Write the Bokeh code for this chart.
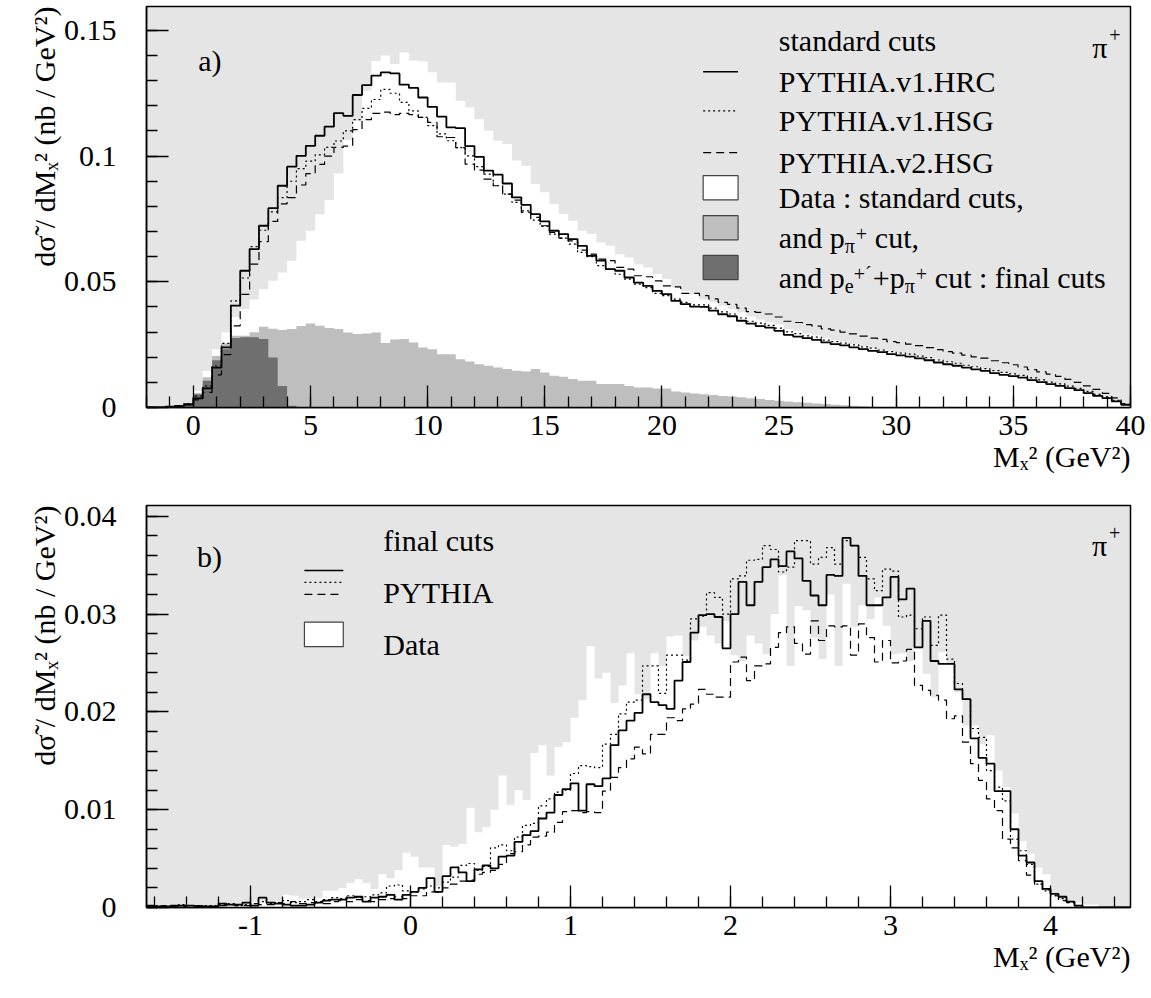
from bokeh.plotting import figure
from bokeh.models import FixedTicker, Label, Title
from bokeh.layouts import column
from bokeh.embed import file_html
from bokeh.resources import INLINE

FONT = "Liberation Serif"

# ---------------- panel a) : bins of 0.4 GeV^2 from -2 to 40 ----------------
A_START, A_BIN = -2.0, 0.4
solid_a = [0.0000, 0.0000, 0.0003, 0.0006, 0.0013, 0.0036, 0.0076, 0.0159, 0.0239, 0.0405,
           0.0544, 0.0630, 0.0723, 0.0793, 0.0882, 0.0958, 0.1001, 0.1041, 0.1081, 0.1117,
           0.1171, 0.1160, 0.1243, 0.1282, 0.1320, 0.1333, 0.1329, 0.1284, 0.1271, 0.1233,
           0.1196, 0.1157, 0.1114, 0.1111, 0.1040, 0.0997, 0.0942, 0.0926, 0.0891, 0.0836,
           0.0806, 0.0769, 0.0740, 0.0703, 0.0690, 0.0670, 0.0643, 0.0603, 0.0584, 0.0550,
           0.0544, 0.0517, 0.0497, 0.0484, 0.0464, 0.0451, 0.0424, 0.0411, 0.0401, 0.0400,
           0.0385, 0.0371, 0.0363, 0.0345, 0.0334, 0.0324, 0.0318, 0.0305, 0.0289, 0.0282,
           0.0276, 0.0269, 0.0259, 0.0252, 0.0247, 0.0239, 0.0232, 0.0225, 0.0220, 0.0212,
           0.0207, 0.0202, 0.0195, 0.0188, 0.0179, 0.0172, 0.0166, 0.0159, 0.0152, 0.0146,
           0.0137, 0.0130, 0.0125, 0.0119, 0.0109, 0.0101, 0.0093, 0.0086, 0.0077, 0.0069,
           0.0057, 0.0046, 0.0037, 0.0024, 0.0011]
dotted_a = [0.0000, 0.0000, 0.0003, 0.0007, 0.0016, 0.0045, 0.0085, 0.0165, 0.0255, 0.0424,
            0.0515, 0.0640, 0.0705, 0.0778, 0.0835, 0.0900, 0.0950, 0.0980, 0.1005, 0.1035,
            0.1060, 0.1100, 0.1145, 0.1190, 0.1225, 0.1265, 0.1250, 0.1214, 0.1180, 0.1154,
            0.1121, 0.1088, 0.1061, 0.1034, 0.1001, 0.0958, 0.0928, 0.0882, 0.0849, 0.0816,
            0.0782, 0.0745, 0.0720, 0.0690, 0.0674, 0.0650, 0.0617, 0.0600, 0.0564, 0.0550,
            0.0530, 0.0511, 0.0491, 0.0477, 0.0454, 0.0445, 0.0431, 0.0418, 0.0408, 0.0408,
            0.0395, 0.0380, 0.0372, 0.0356, 0.0343, 0.0336, 0.0327, 0.0316, 0.0301, 0.0294,
            0.0285, 0.0280, 0.0268, 0.0262, 0.0256, 0.0249, 0.0241, 0.0236, 0.0228, 0.0222,
            0.0216, 0.0212, 0.0204, 0.0198, 0.0189, 0.0182, 0.0176, 0.0168, 0.0162, 0.0155,
            0.0147, 0.0140, 0.0134, 0.0128, 0.0118, 0.0110, 0.0101, 0.0094, 0.0085, 0.0076,
            0.0064, 0.0052, 0.0042, 0.0028, 0.0013]
dashed_a = [0.0000, 0.0000, 0.0000, 0.0004, 0.0010, 0.0030, 0.0060, 0.0130, 0.0210, 0.0325,
            0.0450, 0.0570, 0.0660, 0.0740, 0.0810, 0.0835, 0.0885, 0.0930, 0.0967, 0.1000,
            0.1035, 0.1040, 0.1105, 0.1145, 0.1170, 0.1175, 0.1165, 0.1170, 0.1165, 0.1154,
            0.1134, 0.1077, 0.1074, 0.1034, 0.0968, 0.0944, 0.0908, 0.0882, 0.0849, 0.0825,
            0.0776, 0.0756, 0.0723, 0.0696, 0.0674, 0.0663, 0.0626, 0.0610, 0.0590, 0.0584,
            0.0557, 0.0550, 0.0524, 0.0520, 0.0504, 0.0484, 0.0480, 0.0454, 0.0454, 0.0445,
            0.0432, 0.0418, 0.0410, 0.0395, 0.0381, 0.0378, 0.0372, 0.0360, 0.0343, 0.0338,
            0.0330, 0.0324, 0.0313, 0.0308, 0.0300, 0.0293, 0.0284, 0.0276, 0.0271, 0.0262,
            0.0258, 0.0252, 0.0246, 0.0238, 0.0230, 0.0222, 0.0216, 0.0208, 0.0201, 0.0196,
            0.0186, 0.0178, 0.0170, 0.0161, 0.0151, 0.0142, 0.0133, 0.0124, 0.0112, 0.0100,
            0.0086, 0.0072, 0.0056, 0.0038, 0.0016]
data_std_a = [0.0000, 0.0000, 0.0000, 0.0004, 0.0014, 0.0066, 0.0145, 0.0232, 0.0298, 0.0360,
              0.0391, 0.0430, 0.0471, 0.0504, 0.0537, 0.0584, 0.0663, 0.0703, 0.0769, 0.0825,
              0.0931, 0.1064, 0.1140, 0.1260, 0.1378, 0.1400, 0.1366, 0.1412, 0.1380, 0.1377,
              0.1333, 0.1293, 0.1293, 0.1220, 0.1194, 0.1147, 0.1101, 0.1061, 0.1048, 0.0982,
              0.0962, 0.0889, 0.0856, 0.0809, 0.0770, 0.0743, 0.0703, 0.0690, 0.0656, 0.0643,
              0.0610, 0.0597, 0.0570, 0.0557, 0.0531, 0.0511, 0.0477, 0.0464, 0.0451, 0.0430,
              0.0420, 0.0405, 0.0392, 0.0378, 0.0362, 0.0350, 0.0340, 0.0330, 0.0312, 0.0305,
              0.0294, 0.0286, 0.0276, 0.0268, 0.0262, 0.0252, 0.0245, 0.0238, 0.0230, 0.0223,
              0.0218, 0.0211, 0.0203, 0.0196, 0.0188, 0.0180, 0.0174, 0.0166, 0.0160, 0.0152,
              0.0145, 0.0137, 0.0131, 0.0124, 0.0114, 0.0106, 0.0098, 0.0090, 0.0081, 0.0072,
              0.0060, 0.0049, 0.0039, 0.0026, 0.0012]
data_ppi_a = [0.0000, 0.0000, 0.0000, 0.0003, 0.0013, 0.0058, 0.0120, 0.0205, 0.0255, 0.0285,
              0.0285, 0.0299, 0.0321, 0.0313, 0.0308, 0.0312, 0.0324, 0.0334, 0.0325, 0.0316,
              0.0312, 0.0298, 0.0292, 0.0294, 0.0298, 0.0257, 0.0270, 0.0272, 0.0259, 0.0239,
              0.0232, 0.0212, 0.0212, 0.0192, 0.0183, 0.0172, 0.0166, 0.0159, 0.0153, 0.0146,
              0.0143, 0.0153, 0.0139, 0.0126, 0.0122, 0.0113, 0.0106, 0.0106, 0.0093, 0.0093,
              0.0093, 0.0086, 0.0080, 0.0080, 0.0076, 0.0076, 0.0064, 0.0060, 0.0056, 0.0053,
              0.0050, 0.0046, 0.0044, 0.0041, 0.0037, 0.0034, 0.0030, 0.0027, 0.0024, 0.0021,
              0.0019, 0.0016, 0.0014, 0.0011, 0.0009, 0.0007, 0.0005, 0.0003, 0.0000, 0.0000,
              0.0000, 0.0000, 0.0000, 0.0000, 0.0000, 0.0000, 0.0000, 0.0000, 0.0000, 0.0000,
              0.0000, 0.0000, 0.0000, 0.0000, 0.0000, 0.0000, 0.0000, 0.0000, 0.0000, 0.0000,
              0.0000, 0.0000, 0.0000, 0.0000, 0.0000]
data_final_a = [0.0000, 0.0000, 0.0000, 0.0003, 0.0013, 0.0053, 0.0106, 0.0188, 0.0232, 0.0276,
                0.0279, 0.0279, 0.0272, 0.0199, 0.0086, 0.0007]

# ---------------- panel b) : bins of 0.05 GeV^2 from -1.65 to 4.5 ----------------
B_START, B_BIN = -1.65, 0.05
solid_b = [0.0002, 0.0001, 0.0001, 0.0002, 0.0002, 0.0002, 0.0001, 0.0001, 0.0001, 0.0004,
           0.0003, 0.0003, 0.0005, 0.0002, 0.0010, 0.0005, 0.0004, 0.0003, 0.0002, 0.0002,
           0.0003, 0.0005, 0.0007, 0.0008, 0.0008, 0.0010, 0.0011, 0.0006, 0.0010, 0.0011,
           0.0013, 0.0008, 0.0013, 0.0016, 0.0020, 0.0030, 0.0016, 0.0032, 0.0041, 0.0036,
           0.0027, 0.0039, 0.0043, 0.0040, 0.0052, 0.0053, 0.0067, 0.0074, 0.0078, 0.0091,
           0.0097, 0.0115, 0.0121, 0.0127, 0.0099, 0.0126, 0.0124, 0.0132, 0.0166, 0.0181,
           0.0191, 0.0199, 0.0218, 0.0210, 0.0207, 0.0203, 0.0232, 0.0251, 0.0281, 0.0299,
           0.0300, 0.0297, 0.0265, 0.0300, 0.0333, 0.0309, 0.0333, 0.0348, 0.0356, 0.0349,
           0.0364, 0.0357, 0.0334, 0.0319, 0.0309, 0.0340, 0.0339, 0.0378, 0.0370, 0.0339,
           0.0309, 0.0309, 0.0317, 0.0338, 0.0315, 0.0326, 0.0266, 0.0293, 0.0252, 0.0249,
           0.0249, 0.0223, 0.0213, 0.0173, 0.0153, 0.0147, 0.0119, 0.0119, 0.0080, 0.0053,
           0.0046, 0.0027, 0.0019, 0.0014, 0.0011, 0.0006, 0.0002, 0.0000, 0.0000, 0.0000,
           0.0000, 0.0000, 0.0000]
dotted_b = [0.0001, 0.0002, 0.0001, 0.0001, 0.0003, 0.0002, 0.0001, 0.0002, 0.0002, 0.0003,
            0.0004, 0.0002, 0.0003, 0.0004, 0.0006, 0.0004, 0.0005, 0.0007, 0.0005, 0.0006,
            0.0008, 0.0006, 0.0008, 0.0010, 0.0009, 0.0012, 0.0010, 0.0011, 0.0013, 0.0015,
            0.0022, 0.0023, 0.0017, 0.0016, 0.0019, 0.0022, 0.0020, 0.0026, 0.0031, 0.0043,
            0.0045, 0.0038, 0.0042, 0.0061, 0.0064, 0.0058, 0.0072, 0.0084, 0.0086, 0.0104,
            0.0111, 0.0118, 0.0120, 0.0137, 0.0145, 0.0144, 0.0143, 0.0167, 0.0177, 0.0198,
            0.0210, 0.0212, 0.0247, 0.0247, 0.0219, 0.0258, 0.0258, 0.0253, 0.0295, 0.0298,
            0.0322, 0.0317, 0.0300, 0.0336, 0.0339, 0.0355, 0.0356, 0.0370, 0.0366, 0.0343,
            0.0348, 0.0375, 0.0375, 0.0351, 0.0358, 0.0368, 0.0351, 0.0375, 0.0370, 0.0358,
            0.0336, 0.0324, 0.0346, 0.0344, 0.0297, 0.0299, 0.0285, 0.0297, 0.0268, 0.0299,
            0.0254, 0.0229, 0.0213, 0.0183, 0.0174, 0.0140, 0.0123, 0.0109, 0.0070, 0.0058,
            0.0044, 0.0024, 0.0017, 0.0012, 0.0009, 0.0005, 0.0002, 0.0000, 0.0000, 0.0000,
            0.0000, 0.0000, 0.0000]
dashed_b = [0.0001, 0.0001, 0.0002, 0.0001, 0.0001, 0.0002, 0.0002, 0.0001, 0.0001, 0.0002,
            0.0003, 0.0002, 0.0002, 0.0004, 0.0003, 0.0003, 0.0005, 0.0004, 0.0006, 0.0004,
            0.0005, 0.0005, 0.0004, 0.0006, 0.0007, 0.0006, 0.0008, 0.0007, 0.0006, 0.0008,
            0.0009, 0.0011, 0.0009, 0.0012, 0.0012, 0.0016, 0.0016, 0.0020, 0.0024, 0.0027,
            0.0028, 0.0034, 0.0036, 0.0038, 0.0044, 0.0055, 0.0057, 0.0064, 0.0072, 0.0073,
            0.0077, 0.0087, 0.0098, 0.0099, 0.0097, 0.0098, 0.0097, 0.0119, 0.0133, 0.0143,
            0.0152, 0.0164, 0.0157, 0.0177, 0.0177, 0.0194, 0.0191, 0.0203, 0.0208, 0.0223,
            0.0218, 0.0215, 0.0215, 0.0251, 0.0256, 0.0232, 0.0247, 0.0249, 0.0266, 0.0281,
            0.0287, 0.0270, 0.0259, 0.0293, 0.0273, 0.0288, 0.0287, 0.0288, 0.0258, 0.0290,
            0.0276, 0.0251, 0.0273, 0.0250, 0.0252, 0.0264, 0.0227, 0.0222, 0.0217, 0.0212,
            0.0193, 0.0196, 0.0169, 0.0147, 0.0130, 0.0111, 0.0099, 0.0070, 0.0061, 0.0048,
            0.0033, 0.0024, 0.0018, 0.0012, 0.0007, 0.0005, 0.0002, 0.0000, 0.0000, 0.0000,
            0.0000, 0.0000, 0.0000]
data_b = [0.0002, 0.0001, 0.0000, 0.0002, 0.0001, 0.0002, 0.0001, 0.0000, 0.0001, 0.0003,
          0.0002, 0.0003, 0.0002, 0.0006, 0.0007, 0.0004, 0.0006, 0.0013, 0.0012, 0.0009,
          0.0009, 0.0010, 0.0017, 0.0017, 0.0020, 0.0025, 0.0029, 0.0025, 0.0019, 0.0034,
          0.0030, 0.0038, 0.0056, 0.0052, 0.0041, 0.0041, 0.0022, 0.0064, 0.0062, 0.0065,
          0.0102, 0.0077, 0.0082, 0.0100, 0.0135, 0.0105, 0.0120, 0.0110, 0.0158, 0.0166,
          0.0135, 0.0164, 0.0169, 0.0194, 0.0212, 0.0267, 0.0234, 0.0240, 0.0209, 0.0227,
          0.0260, 0.0218, 0.0213, 0.0260, 0.0247, 0.0277, 0.0278, 0.0257, 0.0273, 0.0287,
          0.0278, 0.0270, 0.0293, 0.0258, 0.0252, 0.0278, 0.0270, 0.0259, 0.0300, 0.0340,
          0.0247, 0.0308, 0.0304, 0.0276, 0.0254, 0.0320, 0.0247, 0.0331, 0.0287, 0.0309,
          0.0295, 0.0317, 0.0288, 0.0259, 0.0260, 0.0252, 0.0266, 0.0239, 0.0215, 0.0261,
          0.0249, 0.0220, 0.0186, 0.0186, 0.0167, 0.0176, 0.0140, 0.0123, 0.0096, 0.0068,
          0.0055, 0.0041, 0.0034, 0.0014, 0.0008, 0.0005, 0.0005, 0.0003, 0.0003, 0.0000,
          0.0000, 0.0000, 0.0000]

# ticks / labels
a_xticks = [0, 5, 10, 15, 20, 25, 30, 35, 40]
a_xlabels = ["0", "5", "10", "15", "20", "25", "30", "35", "40"]
a_yticks = [0, 0.05, 0.1, 0.15]
a_ylabels = ["0", "0.05", "0.1", "0.15"]
b_xticks = [-1, 0, 1, 2, 3, 4]
b_xlabels = ["-1", "0", "1", "2", "3", "4"]
b_yticks = [0, 0.01, 0.02, 0.03, 0.04]
b_ylabels = ["0", "0.01", "0.02", "0.03", "0.04"]

Y_TITLE = "d\u03c3\u0303 / dM\u2093\u00b2 (nb / GeV\u00b2)"
X_TITLE = "M\u2093\u00b2 (GeV\u00b2)"

BG = "#e5e5e5"
LGRAY = "#bebebe"
DGRAY = "#6f6f6f"


def edges(start, width, n):
    return [start + width * i for i in range(n + 1)]


def padded(vals, n):
    v = list(vals) + [0.0] * (n - len(vals))
    return v + [v[-1]]


def make_fig(xr, yr, top, bottom, xt, xl, xminor, yt, yl, yminor):
    p = figure(frame_width=984, frame_height=top[0], x_range=xr, y_range=yr,
               output_backend="svg", toolbar_location=None,
               min_border_left=146, min_border_right=21,
               min_border_top=top[1], min_border_bottom=bottom,
               background_fill_color=BG, border_fill_color="white",
               outline_line_color="black", outline_line_width=1.5)
    p.grid.visible = False
    for ax, t, l, mn in ((p.xaxis[0], xt, xl, xminor), (p.yaxis[0], yt, yl, yminor)):
        ax.ticker = FixedTicker(ticks=t, minor_ticks=mn)
        ax.major_label_overrides = {tv: lab for tv, lab in zip(t, l)}
        ax.major_tick_in = 22
        ax.major_tick_out = 0
        ax.minor_tick_in = 11
        ax.minor_tick_out = 0
        ax.major_tick_line_width = 1.3
        ax.minor_tick_line_width = 1.3
        ax.axis_line_width = 1.5
        ax.major_label_text_font = FONT
        ax.major_label_text_font_size = "30px"
        ax.major_label_text_color = "black"
    p.xaxis.major_label_standoff = 8
    p.yaxis.major_label_standoff = 30
    p.add_layout(Title(text=X_TITLE, align="right", text_font=FONT, text_font_size="30px",
                       text_font_style="normal", text_color="black", standoff=0), "below")
    p.add_layout(Title(text=Y_TITLE, align="right", text_font=FONT, text_font_size="30px",
                       text_font_style="normal", text_color="black", standoff=0), "left")
    return p


def lab(p, x, y, text, size=30, dx=0, dy=0):
    p.add_layout(Label(x=x, y=y, text=text, x_offset=dx, y_offset=dy,
                       text_font=FONT, text_font_size=f"{size}px", text_color="black",
                       text_align="left", text_baseline="alphabetic"))


# ============================ panel a ============================
NA = len(solid_a)
ea = edges(A_START, A_BIN, NA)
pa = make_fig((-2, 40), (0, 0.1595), (401, 6), 83,
              a_xticks, a_xlabels, list(range(-2, 41)),
              a_yticks, a_ylabels, [i / 100 for i in range(0, 16)])

pa.varea_step(x=ea, y1=0, y2=padded(data_std_a, NA), step_mode="after", fill_color="white")
pa.varea_step(x=ea, y1=0, y2=padded(data_ppi_a, NA), step_mode="after", fill_color=LGRAY)
pa.varea_step(x=ea, y1=0, y2=padded(data_final_a, NA), step_mode="after", fill_color=DGRAY)
pa.step(x=ea, y=padded(dashed_a, NA), mode="after", line_color="black", line_width=1.2, line_dash="8 5")
pa.step(x=ea, y=padded(dotted_a, NA), mode="after", line_color="black", line_width=1.2, line_dash="2 3")
pa.step(x=ea, y=padded(solid_a, NA), mode="after", line_color="black", line_width=1.8)

# legend (layout positions in axis units)
LX0, LX1, LT = 21.76, 23.25, 24.99
rows = [0.1335, 0.1180, 0.1014, 0.0874, 0.0715, 0.0557]
BASE = -0.0038
HALF = 0.0048
lab(pa, LT, 0.1459, "standard cuts")
for yy, dash, w, txt in ((rows[0], "solid", 1.5, "PYTHIA.v1.HRC"),
                         (rows[1], "2 3", 1.2, "PYTHIA.v1.HSG"),
                         (rows[2], "8 5", 1.2, "PYTHIA.v2.HSG")):
    pa.line(x=[LX0, LX1], y=[yy, yy], line_color="black", line_width=w, line_dash=dash)
    lab(pa, LT, yy + BASE, txt)
for yy, col in ((rows[3], "white"), (rows[4], LGRAY), (rows[5], DGRAY)):
    pa.quad(left=LX0, right=LX1, bottom=yy - HALF, top=yy + HALF, fill_color=col,
            line_color="#444444", line_width=1.2)
lab(pa, LT, rows[3] + BASE, "Data : standard cuts,")
# "and p_pi+ cut,"
lab(pa, LT, rows[4] + BASE, "and p")
lab(pa, LT, rows[4] + BASE, "\u03c0", size=20, dx=66, dy=-9)
lab(pa, LT, rows[4] + BASE, "+", size=20, dx=77, dy=3)
lab(pa, LT, rows[4] + BASE, "cut,", dx=96)
# "and p_e+' + p_pi+ cut : final cuts"
lab(pa, LT, rows[5] + BASE, "and p")
lab(pa, LT, rows[5] + BASE, "e", size=20, dx=66, dy=-9)
lab(pa, LT, rows[5] + BASE, "+\u00b4", size=20, dx=75, dy=3)
lab(pa, LT, rows[5] + BASE, "+p", dx=94)
lab(pa, LT, rows[5] + BASE, "\u03c0", size=20, dx=126, dy=-9)
lab(pa, LT, rows[5] + BASE, "+", size=20, dx=137, dy=3)
lab(pa, LT, rows[5] + BASE, "cut : final cuts", dx=156)
lab(pa, 0.21, 0.1382, "a)")
lab(pa, 38.37, 0.1432, "\u03c0")
lab(pa, 38.37, 0.1432, "+", size=20, dx=17, dy=12)

# ============================ panel b ============================
NB = len(solid_b)
eb = edges(B_START, B_BIN, NB)
pb = make_fig((-1.65, 4.5), (0, 0.0411), (402, 15), 91,
              b_xticks, b_xlabels, [round(-1.6 + 0.2 * i, 1) for i in range(31)],
              b_yticks, b_ylabels, [round(0.002 * i, 3) for i in range(21)])

pb.varea_step(x=eb, y1=0, y2=padded(data_b, NB), step_mode="after", fill_color="white")
pb.step(x=eb, y=padded(dashed_b, NB), mode="after", line_color="black", line_width=1.2, line_dash="8 5")
pb.step(x=eb, y=padded(dotted_b, NB), mode="after", line_color="black", line_width=1.2, line_dash="2 3")
pb.step(x=eb, y=padded(solid_b, NB), mode="after", line_color="black", line_width=1.8)

BX0, BX1, BT = -0.663, -0.42, -0.17
lab(pb, BT, 0.03754, "final cuts")
for yy, dash, w in ((0.03446, "solid", 1.5), (0.03324, "2 3", 1.2), (0.03201, "8 5", 1.2)):
    pb.line(x=[BX0, BX1], y=[yy, yy], line_color="black", line_width=w, line_dash=dash)
lab(pb, BT, 0.03224, "PYTHIA")
pb.quad(left=BX0, right=BX1, bottom=0.02668, top=0.02917, fill_color="white",
        line_color="#444444", line_width=1.2)
lab(pb, BT, 0.02689, "Data")
lab(pb, -1.335, 0.0359, "b)")
lab(pb, 4.259, 0.03702, "\u03c0")
lab(pb, 4.259, 0.03702, "+", size=20, dx=17, dy=12)

layout = column(pa, pb, spacing=0)
open("out.html", "w").write(file_html(layout, INLINE))
